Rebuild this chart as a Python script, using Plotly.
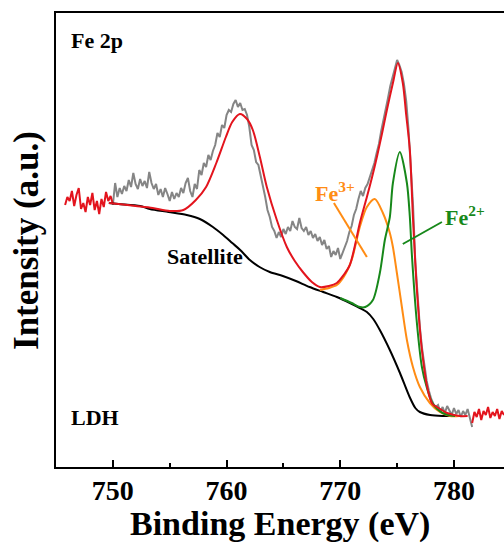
import plotly.graph_objects as go

# ---------------- measured spectrum (Fe 2p, LDH), 0.2 eV steps ----------------
E_STEP = 0.2

# outside the fitted window (drawn in red)
raw_lo_start = 745.8
raw_lo = [262, 270, 266, 276, 261, 272, 279, 258, 264, 255, 270,
          262, 274, 257, 266, 253, 268, 260, 275, 266, 271, 263]

# inside the fitted window (drawn in grey)
raw_mid_start = 750.0
raw_mid = [262, 284, 270, 279, 273, 281, 276, 287, 280, 294,
           283, 278, 288, 281, 286, 279, 295, 284, 278, 283,
           272, 278, 270, 279, 273, 266, 275, 268, 274, 270,
           279, 274, 284, 289, 276, 270, 283, 278, 297, 292,
           304, 300, 312, 307, 316, 322, 334, 330, 342, 339,
           352, 357, 355, 363, 367, 360, 364, 357, 358, 352,
           340, 322, 317, 305, 302, 292, 280, 270, 257, 250,
           240, 236, 229, 235, 230, 238, 233, 240, 236, 246,
           240, 238, 249, 239, 236, 240, 232, 236, 229, 233,
           226, 230, 222, 227, 218, 221, 210, 216, 212, 219,
           208, 214, 222, 226, 235, 241, 252, 258, 268, 276,
           271, 279, 283, 290, 297, 304, 314, 323, 336, 346,
           359, 369, 381, 390, 399, 407, 402, 395, 383, 366,
           338, 305, 262, 205, 172, 140, 118, 100, 86, 76,
           68, 63, 60, 62, 55, 60, 54, 61, 56, 52,
           59, 53, 57, 50, 56, 52, 58, 49, 40]

raw_hi_start = 781.6
raw_hi = [44, 55, 50, 58, 47, 56, 52, 60, 49, 55, 51, 58, 48, 56, 52]

# ---------------- fitted curves ----------------
bg_e = [749.65, 750.5, 752.4, 753.25, 754.9, 756.5, 757.65, 758.8, 759.7,
        760.5, 761.2, 762.05, 762.9, 763.8, 764.95, 766.1, 767.3, 768.5,
        769.7, 770.85, 771.72, 772.34, 772.9, 773.48, 774.36, 775.25, 776.1,
        776.6, 777.0, 777.9, 779.0, 780.5]
bg_i = [264, 263, 261, 258, 255, 252, 248, 240, 232,
        224, 217, 207, 200, 195, 191, 186, 180, 175,
        170, 164, 159, 155, 148, 137, 117, 94, 70,
        59, 55, 52, 51, 51]

fe3_e = [768.2, 769.0, 769.7, 770.3, 771.0, 771.72, 772.34, 773.04, 773.75,
         774.36, 774.63, 774.98, 775.42, 775.86, 776.39, 777.0, 777.88,
         778.76, 779.64, 780.5]
fe3_i = [177, 179, 182, 190, 207, 240, 260, 268, 254,
         234, 220, 194, 160, 127, 100, 80, 64,
         55, 51, 51]

fe2_e = [770.0, 771.0, 771.72, 772.2, 772.87, 773.48, 773.92, 774.36, 774.63,
         775.24, 775.86, 776.12, 776.3, 776.74, 777.18, 777.6, 778.1, 779.0,
         780.1]
fe2_i = [169, 164, 160, 160, 167, 194, 227, 250, 284,
         315, 284, 250, 212, 144, 100, 80, 64, 54,
         51]

env_e = [749.65, 750.5, 752.0, 753.5, 755.0, 756.2, 757.3, 758.2, 759.1,
         759.94, 760.5, 761.17, 761.8, 762.31, 762.93, 763.54, 764.42, 765.3,
         766.0, 766.71, 767.5, 768.2, 769.0, 769.7, 770.3, 770.84, 771.3,
         771.72, 772.34, 772.8, 773.22, 773.7, 774.1, 774.63, 775.07, 775.5,
         775.8, 776.12, 776.39, 776.74, 777.18, 777.7, 778.1, 778.5, 779.4,
         780.5, 781.2]
env_i = [264, 263, 261, 259, 256, 257, 267, 280, 304,
         330, 345, 353, 348, 337, 310, 280, 247, 220,
         206, 195, 185, 180, 181, 184, 192, 202, 222,
         244, 270, 290, 310, 335, 357, 384, 404, 384,
         352, 317, 250, 177, 117, 77, 63, 60, 54,
         51, 51]

RED = "#E3141D"
GREY = "#858585"
BLACK = "#000000"
ORANGE = "#FF8C14"
GREEN = "#17881A"
FONT = "Liberation Serif, Times New Roman, serif"


def energies(start, values):
    return [round(start + E_STEP * k, 2) for k in range(len(values))]


fig = go.Figure()

line_opts = dict(mode="lines", hoverinfo="skip", showlegend=False)
fig.add_trace(go.Scatter(x=energies(raw_mid_start, raw_mid), y=raw_mid,
                         line=dict(color=GREY, width=2), **line_opts))
fig.add_trace(go.Scatter(x=energies(raw_lo_start, raw_lo), y=raw_lo,
                         line=dict(color=RED, width=2), **line_opts))
fig.add_trace(go.Scatter(x=energies(raw_hi_start, raw_hi), y=raw_hi,
                         line=dict(color=RED, width=2), **line_opts))
fig.add_trace(go.Scatter(x=bg_e, y=bg_i,
                         line=dict(color=BLACK, width=2, shape="spline", smoothing=0.8),
                         **line_opts))
fig.add_trace(go.Scatter(x=fe3_e, y=fe3_i,
                         line=dict(color=ORANGE, width=2, shape="spline", smoothing=0.8),
                         **line_opts))
fig.add_trace(go.Scatter(x=fe2_e, y=fe2_i,
                         line=dict(color=GREEN, width=2, shape="spline", smoothing=0.8),
                         **line_opts))
fig.add_trace(go.Scatter(x=env_e, y=env_i,
                         line=dict(color=RED, width=2, shape="spline", smoothing=0.8),
                         **line_opts))

# component labels with their leader lines
fig.add_shape(type="line", xref="x", yref="y", x0=769.44, y0=264, x1=772.34, y1=210,
              line=dict(color=ORANGE, width=2))
fig.add_shape(type="line", xref="x", yref="y", x0=778.94, y0=245, x1=775.5, y1=223,
              line=dict(color=GREEN, width=2))

notes = [
    dict(x=746.1, y=427, text="<b>Fe 2p</b>", color=BLACK),
    dict(x=746.1, y=50, text="<b>LDH</b>", color=BLACK),
    dict(x=754.6, y=211, text="<b>Satellite</b>", color=BLACK),
    dict(x=767.6, y=275, text="<b>Fe<sup>3+</sup></b>", color=ORANGE),
    dict(x=779.0, y=251, text="<b>Fe<sup>2+</sup></b>", color=GREEN),
]
for n in notes:
    fig.add_annotation(x=n["x"], y=n["y"], xref="x", yref="y", text=n["text"],
                       showarrow=False, xanchor="left", yanchor="middle",
                       font=dict(family=FONT, size=22, color=n["color"]))

# axis titles
fig.add_annotation(x=0.5, y=-0.08, xref="paper", yref="paper", yanchor="top",
                   text="<b>Binding Energy (eV)</b>", showarrow=False,
                   font=dict(family=FONT, size=34, color=BLACK))
fig.add_annotation(x=-0.067, y=0.5, xref="paper", yref="paper", xanchor="center",
                   text="<b>Intensity (a.u.)</b>", showarrow=False, textangle=-90,
                   font=dict(family=FONT, size=35, color=BLACK))

fig.update_layout(
    width=504, height=544,
    margin=dict(l=56, r=0, t=13, b=77),
    paper_bgcolor="white", plot_bgcolor="white",
    xaxis=dict(range=[745.0, 784.4], tick0=750, dtick=10,
               ticks="inside", ticklen=7, tickwidth=2, tickcolor=BLACK,
               minor=dict(ticks="inside", ticklen=4, tickwidth=2, tickcolor=BLACK, dtick=5),
               showline=True, linecolor=BLACK, linewidth=2, mirror=True,
               showgrid=False, zeroline=False, ticklabelstandoff=-3,
               tickfont=dict(family=FONT, size=28, color=BLACK, weight="bold")),
    yaxis=dict(range=[0, 454], showticklabels=False, ticks="",
               showline=True, linecolor=BLACK, linewidth=2, mirror=False,
               showgrid=False, zeroline=False),
)

fig.write_html("out.html")
